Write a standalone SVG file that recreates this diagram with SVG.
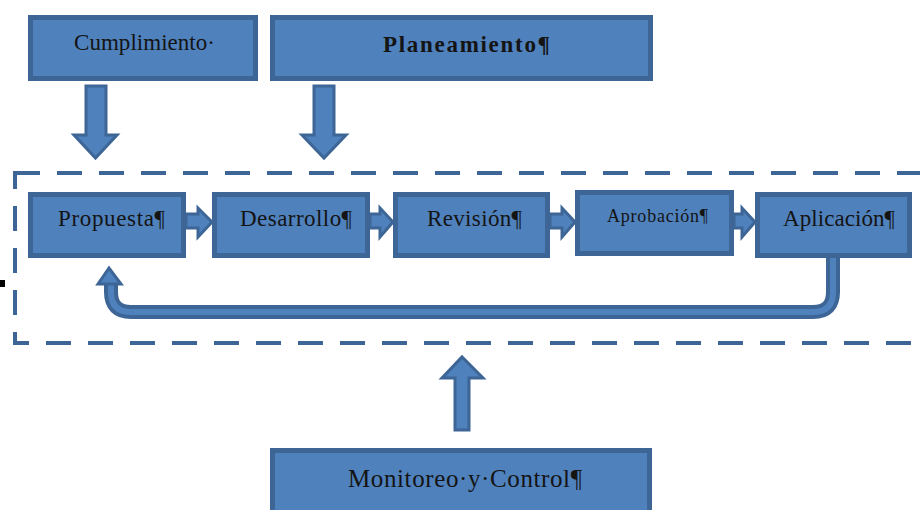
<svg xmlns="http://www.w3.org/2000/svg" width="920" height="510" viewBox="0 0 920 510">
<style>
.box{fill:#4f81bd;stroke:#3d6595;stroke-width:5}
.arr{fill:#4f81bd;stroke:#3d6595;stroke-width:3;stroke-linejoin:miter}
.t{font-family:"Liberation Serif","Times New Roman",serif;fill:#141414}
.dash{fill:none;stroke:#3d6595;stroke-width:4;stroke-dasharray:25 17}
</style>
<rect width="920" height="510" fill="#ffffff"/>
<rect x="0" y="280" width="5" height="7" fill="#000"/>
<rect class="dash" x="15" y="173" width="930" height="170"/>

<g id="cumplimiento">
<rect class="box" x="30.5" y="17.5" width="225" height="61"/>
<text class="t" x="74" y="50" font-size="23" textLength="141" lengthAdjust="spacing">Cumplimiento·</text>
</g>
<g id="planeamiento">
<rect class="box" x="272.5" y="17.5" width="378" height="61"/>
<text class="t" x="383" y="52" font-size="23" font-weight="bold" textLength="167" lengthAdjust="spacing">Planeamiento¶</text>
</g>
<g id="propuesta">
<rect class="box" x="30.5" y="194.5" width="153" height="61"/>
<text class="t" x="58" y="226" font-size="23" textLength="107" lengthAdjust="spacing">Propuesta¶</text>
</g>
<g id="desarrollo">
<rect class="box" x="214.5" y="194.5" width="153" height="61"/>
<text class="t" x="240" y="226" font-size="23" textLength="112" lengthAdjust="spacing">Desarrollo¶</text>
</g>
<g id="revision">
<rect class="box" x="395.5" y="194.5" width="152" height="61"/>
<text class="t" x="427" y="226" font-size="23" textLength="95" lengthAdjust="spacing">Revisión¶</text>
</g>
<g id="aprobacion">
<rect class="box" x="577.5" y="192.5" width="154" height="61"/>
<text class="t" x="607" y="222" font-size="18" textLength="101" lengthAdjust="spacing">Aprobación¶</text>
</g>
<g id="aplicacion">
<rect class="box" x="757.5" y="194.5" width="152" height="61"/>
<text class="t" x="783" y="226" font-size="23" textLength="112" lengthAdjust="spacing">Aplicación¶</text>
</g>
<g id="monitoreo">
<rect class="box" x="272.5" y="450.5" width="377" height="66"/>
<text class="t" x="348" y="487" font-size="25" textLength="234" lengthAdjust="spacing">Monitoreo·y·Control¶</text>
</g>

<g id="connectors">
<polygon class="arr" points="86,86 106,86 106,135 117,135 95.5,158 74,135 86,135"/>
<polygon class="arr" points="314,86 334,86 334,135 346,135 324,158 302,135 314,135"/>
<polygon class="arr" points="455,430 469,430 469,378 483,378 462,357 442,378 455,378"/>
<polygon class="arr" points="186,214 198,214 198,208 212,222 198,237 198,228 186,228"/>
<polygon class="arr" points="370,214 380,214 380,208 393,222 380,237 380,228 370,228"/>
<polygon class="arr" points="550,214 562,214 562,208 575,222 562,237 562,228 550,228"/>
<polygon class="arr" points="734,214 742,214 742,208 755,222 742,237 742,228 734,228"/>
<path d="M833,258 V292 Q833,312 813,312 H131 Q111,312 111,292 V282" fill="none" stroke="#3d6595" stroke-width="14"/>
<path d="M833,258 V292 Q833,312 813,312 H131 Q111,312 111,292 V282" fill="none" stroke="#4f81bd" stroke-width="6"/>
<polygon class="arr" points="98,284 109,268 121,284"/>
</g>
</svg>
